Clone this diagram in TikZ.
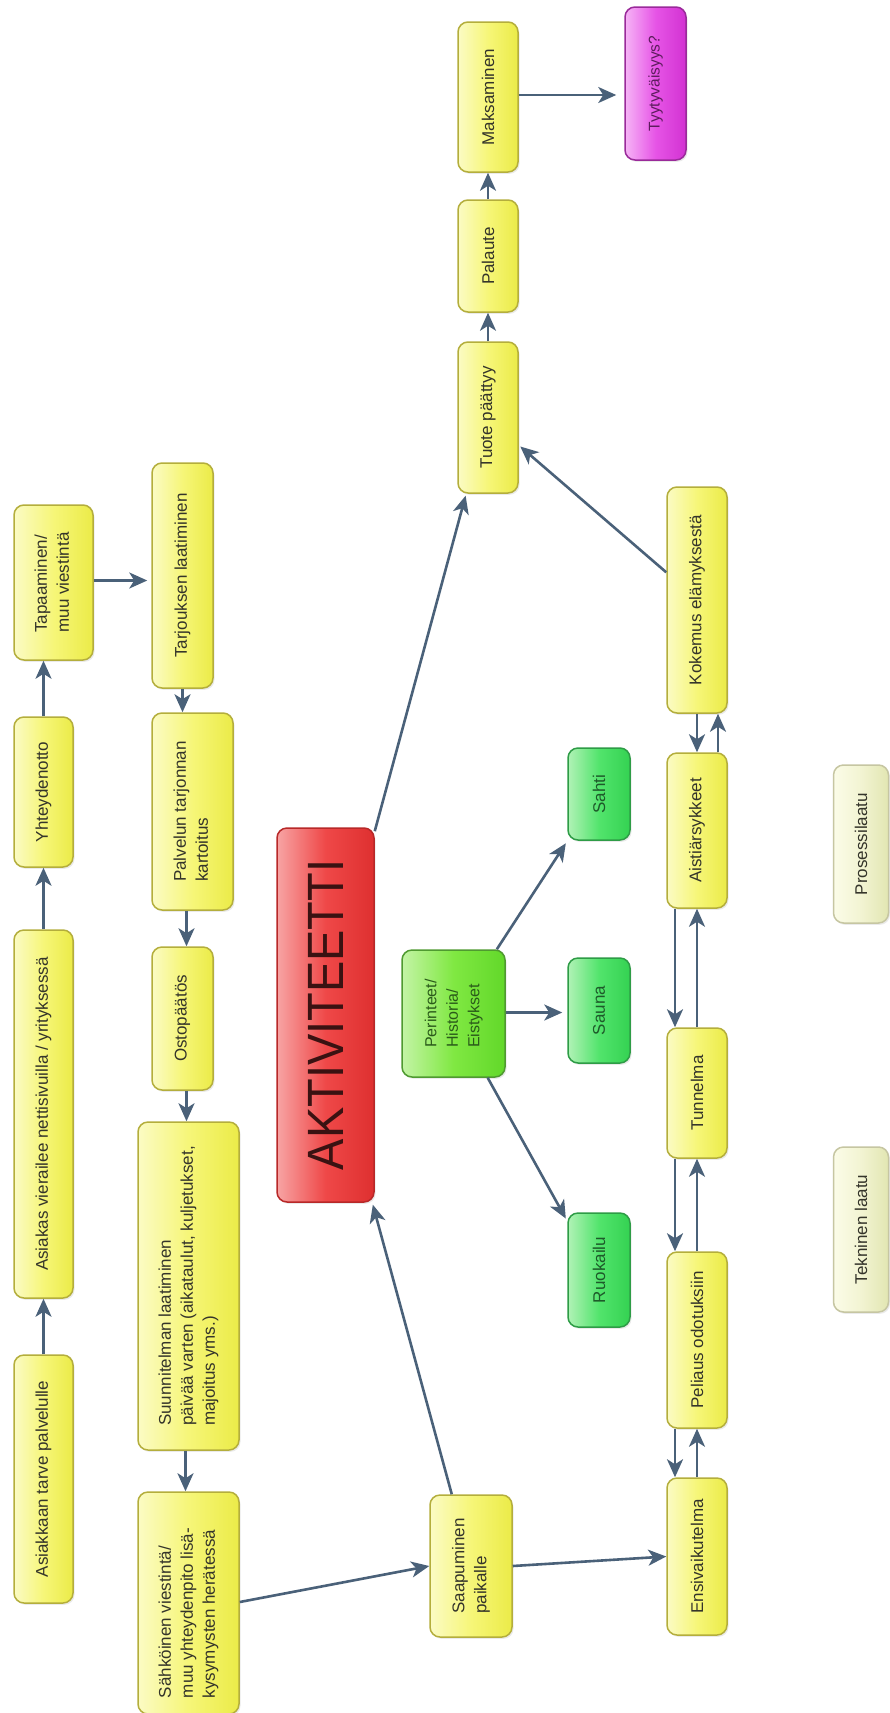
\documentclass[tikz,border=0pt]{standalone}
\usepackage{fontspec}
\setmainfont{Liberation Sans}
\usetikzlibrary{arrows.meta,calc,shadows}

% palette
\definecolor{yborder}{HTML}{B4AE3C}
\definecolor{yleft}{HTML}{FBFBC4}
\definecolor{ymid}{HTML}{F6F678}
\definecolor{yright}{HTML}{EBEB48}
\definecolor{ytext}{HTML}{34342A}
\definecolor{rborder}{HTML}{B82828}
\definecolor{rleft}{HTML}{F7A4A4}
\definecolor{rmid}{HTML}{EF4848}
\definecolor{rright}{HTML}{DE3030}
\definecolor{rtext}{HTML}{3A1212}
\definecolor{gborder}{HTML}{2E9C46}
\definecolor{gleft}{HTML}{B0F2B6}
\definecolor{gmid}{HTML}{52E46C}
\definecolor{gright}{HTML}{34D252}
\definecolor{gtext}{HTML}{1E5A2A}
\definecolor{lborder}{HTML}{4F9A30}
\definecolor{lleft}{HTML}{C4F4A6}
\definecolor{lmid}{HTML}{80E842}
\definecolor{lright}{HTML}{62D82A}
\definecolor{ltext}{HTML}{2A5A1A}
\definecolor{pborder}{HTML}{9A2A9A}
\definecolor{pleft}{HTML}{F6B4F6}
\definecolor{pmid}{HTML}{E654E6}
\definecolor{pright}{HTML}{D232D2}
\definecolor{ptext}{HTML}{5C1C5C}
\definecolor{qborder}{HTML}{C6C6A2}
\definecolor{qleft}{HTML}{FBFCE8}
\definecolor{qmid}{HTML}{F2F4D2}
\definecolor{qright}{HTML}{E2E6B2}
\definecolor{arrowc}{HTML}{4A6179}

\tikzset{
  box/.style={draw, line width=1.5pt, rounded corners=10pt, inner sep=0pt,
    font=\fontsize{17}{22}\selectfont,
    drop shadow={opacity=0.16, shadow xshift=1.5pt, shadow yshift=-1.8pt}},
  ybox/.style={box, draw=yborder, left color=yleft, right color=yright, middle color=ymid, text=ytext},
  rbox/.style={box, draw=rborder, left color=rleft, right color=rright, middle color=rmid, text=rtext},
  gbox/.style={box, draw=gborder, left color=gleft, right color=gright, middle color=gmid, text=gtext},
  lbox/.style={box, draw=lborder, left color=lleft, right color=lright, middle color=lmid, text=ltext},
  pbox/.style={box, draw=pborder, left color=pleft, right color=pright, middle color=pmid, text=ptext},
  qbox/.style={box, draw=qborder, left color=qleft, right color=qright, middle color=qmid, text=ytext},
  link/.style={draw=arrowc, line width=2.6pt,
    -{Stealth[length=18pt, width=16pt, inset=5pt]}},
}

\newcommand{\up}[1]{\rotatebox{90}{#1}}
\newcommand{\uplines}[1]{\rotatebox{90}{\begin{tabular}{@{}l@{}}#1\end{tabular}}}

\begin{document}
\begin{tikzpicture}[x=1pt, y=-1pt]
\fill[white] (0,0) rectangle (890,1713);
\useasboundingbox (0,0) rectangle (890,1713);

% ---- customer path (left column) ----
\node[ybox, minimum width=59pt, minimum height=248pt] (tarve) at (43.5,1479) {\up{Asiakkaan tarve palvelulle}};
\node[ybox, minimum width=59pt, minimum height=368pt] (vierailee) at (43.5,1114) {\up{Asiakas vierailee nettisivuilla / yrityksessä}};
\node[ybox, minimum width=59pt, minimum height=150pt] (yhteys) at (43.5,792) {\up{Yhteydenotto}};
\node[ybox, minimum width=79pt, minimum height=155pt] (tapaaminen) at (53.5,582.5) {\uplines{Tapaaminen/\\muu viestintä}};

% ---- planning column ----
\node[ybox, minimum width=61pt, minimum height=225pt] (tarjous) at (182.5,575.5) {\up{Tarjouksen laatiminen}};
\node[ybox, minimum width=81pt, minimum height=197pt] (palvelun) at (192.5,811.5) {\uplines{Palvelun tarjonnan\\kartoitus}};
\node[ybox, minimum width=61pt, minimum height=143pt] (osto) at (182.5,1018.5) {\up{Ostopäätös}};
\node[ybox, minimum width=101pt, minimum height=328pt] (suunnitelma) at (188.5,1286) {\uplines{Suunnitelman laatiminen\\päivää varten (aikataulut, kuljetukset,\\majoitus yms.)}};
\node[ybox, minimum width=101pt, minimum height=222pt] (sahkoinen) at (188.5,1603) {};
\node[font=\fontsize{17}{22}\selectfont, text=ytext, inner sep=0pt] (sahkoteksti) at (188.5,1613) {\uplines{Sähköinen viestintä/\\muu yhteydenpito lisä-\\kysymysten herätessä}};

% ---- centre ----
\node[rbox, minimum width=97pt, minimum height=374pt] (aktiviteetti) at (325.5,1015)
  {\up{\scalebox{0.92}[1]{\fontsize{51}{51}\selectfont AKTIVITEETTI}}};
\node[lbox, minimum width=103pt, minimum height=127pt, font=\fontsize{16}{21.5}\selectfont] (perinteet) at (453.5,1013.5) {\uplines{Perinteet/\\Historia/\\Eistykset}};
\node[ybox, minimum width=82pt, minimum height=142pt] (saapuminen) at (471,1566) {\uplines{Saapuminen\\paikalle}};

\node[gbox, minimum width=62pt, minimum height=92pt] (sahti) at (599,794) {\up{Sahti}};
\node[gbox, minimum width=62pt, minimum height=105pt] (sauna) at (599,1010.5) {\up{Sauna}};
\node[gbox, minimum width=62pt, minimum height=114pt] (ruokailu) at (599,1270) {\up{Ruokailu}};

% ---- ending ----
\node[ybox, minimum width=60pt, minimum height=151pt] (tuote) at (488,417.5) {\up{Tuote päättyy}};
\node[ybox, minimum width=60pt, minimum height=112pt] (palaute) at (488,256) {\up{Palaute}};
\node[ybox, minimum width=60pt, minimum height=150pt] (maksaminen) at (488,97) {\up{Maksaminen}};
\node[pbox, minimum width=61pt, minimum height=153pt, font=\fontsize{15.5}{20}\selectfont] (tyytyv) at (655.5,83.5) {\up{Tyytyväisyys?}};

% ---- experience column ----
\node[ybox, minimum width=60pt, minimum height=226pt] (kokemus) at (697,600) {\up{Kokemus elämyksestä}};
\node[ybox, minimum width=60pt, minimum height=155pt] (aist) at (697,830.5) {\up{Aistiärsykkeet}};
\node[ybox, minimum width=60pt, minimum height=130pt] (tunnelma) at (697,1093) {\up{Tunnelma}};
\node[ybox, minimum width=60pt, minimum height=176pt] (peliaus) at (697,1340) {\up{Peliaus odotuksiin}};
\node[ybox, minimum width=60pt, minimum height=157pt] (ensi) at (697,1556.5) {\up{Ensivaikutelma}};

% ---- quality labels ----
\node[qbox, minimum width=55pt, minimum height=158pt] (prosessi) at (861,844) {\up{Prosessilaatu}};
\node[qbox, minimum width=55pt, minimum height=165pt] (tekninen) at (861,1229.5) {\up{Tekninen laatu}};

% ---- connectors ----
\draw[link] (tarve.north) -- (vierailee.south);
\draw[link] (vierailee.north) -- (yhteys.south);
\draw[link] (yhteys.north) -- (yhteys.north |- tapaaminen.south);
\draw[link] ($(tapaaminen.east)+(0,-2)$) -- ($(tapaaminen.east -| tarjous.west)+(-4,-2)$);
\draw[link] (tarjous.south) -- (tarjous.south |- palvelun.north);
\draw[link] ($(palvelun.south -| osto.north)+(4,0)$) -- ($(osto.north)+(4,0)$);
\draw[link] ($(osto.south)+(4,0)$) -- ($(osto.south |- suunnitelma.north)+(4,0)$);
\draw[link] ($(suunnitelma.south)+(-3,0)$) -- ($(sahkoinen.north)+(-3,0)$);
\draw[link] ($(sahkoinen.east)+(0,-1)$) -- (saapuminen.west);
\draw[link] (saapuminen.east) -- (ensi.west);
\draw[link, shorten >=2pt] (saapuminen.105) -- (aktiviteetti.284);
\draw[link, shorten >=2pt] (aktiviteetti.75) -- (tuote.254);
\draw[link, shorten >=2pt] (kokemus.138) -- (tuote.318);
\draw[link] (tuote.north) -- (palaute.south);
\draw[link] (palaute.north) -- (maksaminen.south);
\draw[link] ($(maksaminen.east)+(0,-2)$) -- ($(maksaminen.east -| tyytyv.west)+(-8,-2)$);

\draw[link] ($(perinteet.east)+(0,-1)$) -- ($(perinteet.east -| sauna.west)+(-5,-1)$);
\draw[link, shorten >=3pt] (perinteet.56) -- (sahti.236);
\draw[link, shorten >=3pt] (perinteet.298) -- (ruokailu.123);

\draw[link] (kokemus.south) -- (aist.north);
\draw[link] ($(aist.north)+(21,0)$) -- ($(kokemus.south)+(21,0)$);
\draw[link] ($(aist.south)+(-22,0)$) -- ($(tunnelma.north)+(-22,0)$);
\draw[link] (tunnelma.north) -- (aist.south);
\draw[link] ($(tunnelma.south)+(-22,0)$) -- ($(peliaus.north)+(-22,0)$);
\draw[link] (peliaus.north) -- (tunnelma.south);
\draw[link] ($(peliaus.south)+(-22,0)$) -- ($(ensi.north)+(-22,0)$);
\draw[link] (ensi.north) -- (peliaus.south);
\end{tikzpicture}
\end{document}
